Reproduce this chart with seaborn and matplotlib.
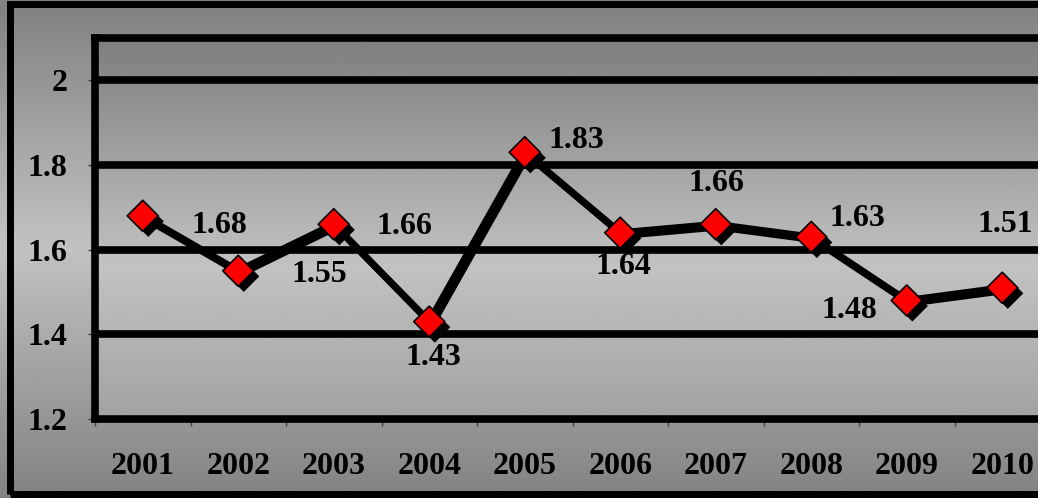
import numpy as np
import seaborn as sns
import matplotlib.pyplot as plt
import matplotlib.patheffects as pe
from matplotlib.patches import Rectangle

# data
years = ['2001', '2002', '2003', '2004', '2005', '2006', '2007', '2008', '2009', '2010']
values = [1.68, 1.55, 1.66, 1.43, 1.83, 1.64, 1.66, 1.63, 1.48, 1.51]
yticks = [1.2, 1.4, 1.6, 1.8, 2.0]
ytick_labels = ['1.2', '1.4', '1.6', '1.8', '2']
# label offsets in pixels (dx, dy) relative to each point
label_offsets = [(77, -10), (81, -4), (71, -2), (4, -36), (52, 12),
                 (3, -34), (1, 41), (46, 18), (-57, -10), (3, 63)]

sns.set_theme(style='white')
plt.rcParams['font.family'] = ['Liberation Serif', 'DejaVu Serif']
plt.rcParams['font.weight'] = 'bold'
FS = 23

fig = plt.figure(figsize=(10.38, 4.98), dpi=100)

# figure background gradient (dark top, light middle, dark bottom)
bg = fig.add_axes([0, 0, 1, 1], zorder=-10)
t = np.linspace(0, 1, 256)
g = np.interp(t, [0, 0.5, 1], [128, 194, 130]) / 255
bg.imshow(np.repeat(g[:, None], 2, axis=1), cmap='gray', vmin=0, vmax=1,
          aspect='auto', extent=[0, 1, 0, 1], origin='upper')
bg.set_xlim(0, 1)
bg.set_ylim(0, 1)
bg.axis('off')

ax = fig.add_axes([95 / 1038, 79 / 498, 955 / 1038, 381 / 498])
ax.set_facecolor('none')
# plot area gradient
pg = np.interp(t, [0, 0.6, 1], [126, 194, 162]) / 255
ax.imshow(np.repeat(pg[:, None], 2, axis=1), cmap='gray', vmin=0, vmax=1,
          aspect='auto', extent=[0, 1, 0, 1], origin='upper',
          transform=ax.transAxes, zorder=0)

x = np.arange(len(years))
sns.lineplot(x=x, y=values, ax=ax, color='black', lw=5, zorder=4,
             path_effects=[pe.SimpleLineShadow(offset=(2, -2), shadow_color='black', alpha=1),
                           pe.Normal()])
sns.scatterplot(x=x, y=values, ax=ax, marker='D', s=250, color='red',
                edgecolor='black', linewidth=1.2, zorder=5,
                path_effects=[pe.SimplePatchShadow(offset=(4, -4), shadow_rgbFace='black', alpha=1),
                              pe.Normal()])

for i, v in enumerate(values):
    ax.annotate(f'{v:.2f}', (x[i], v), xytext=label_offsets[i], textcoords='offset pixels',
                ha='center', va='center', fontsize=FS, fontweight='bold', color='black', zorder=6)

ax.set_xlim(-0.5, len(years) - 0.5)
ax.set_ylim(1.2, 2.1)
ax.set_yticks(yticks)
ax.set_yticklabels(ytick_labels)
ax.set_xticks(x)
ax.set_xticklabels(years)
ax.set_xticks(np.arange(len(years) + 1) - 0.5, minor=True)
ax.tick_params(axis='x', which='major', length=0, pad=24, labelsize=FS, labelcolor='black')
ax.tick_params(axis='x', which='minor', length=5, width=1, color='#404040', direction='out', bottom=True)
ax.tick_params(axis='y', length=5, width=1, color='#404040', pad=15, labelsize=FS,
               labelcolor='black', left=True)
for lab in ax.get_xticklabels() + ax.get_yticklabels():
    lab.set_fontweight('bold')

ax.set_xlabel('')
ax.set_ylabel('')
ax.grid(False)
for yv in yticks[1:]:
    ax.axhline(yv, color='black', lw=5.5, zorder=2)
for side in ['left', 'bottom', 'top']:
    ax.spines[side].set_visible(True)
    ax.spines[side].set_color('black')
    ax.spines[side].set_linewidth(5.5)
ax.spines['right'].set_visible(False)

# outer chart border
fig.patches.append(Rectangle((10 / 1038, 4 / 498), 1.2, 490 / 498, transform=fig.transFigure,
                             fill=False, edgecolor='black', lw=5, zorder=20))

plt.savefig('out.png', dpi=100)
